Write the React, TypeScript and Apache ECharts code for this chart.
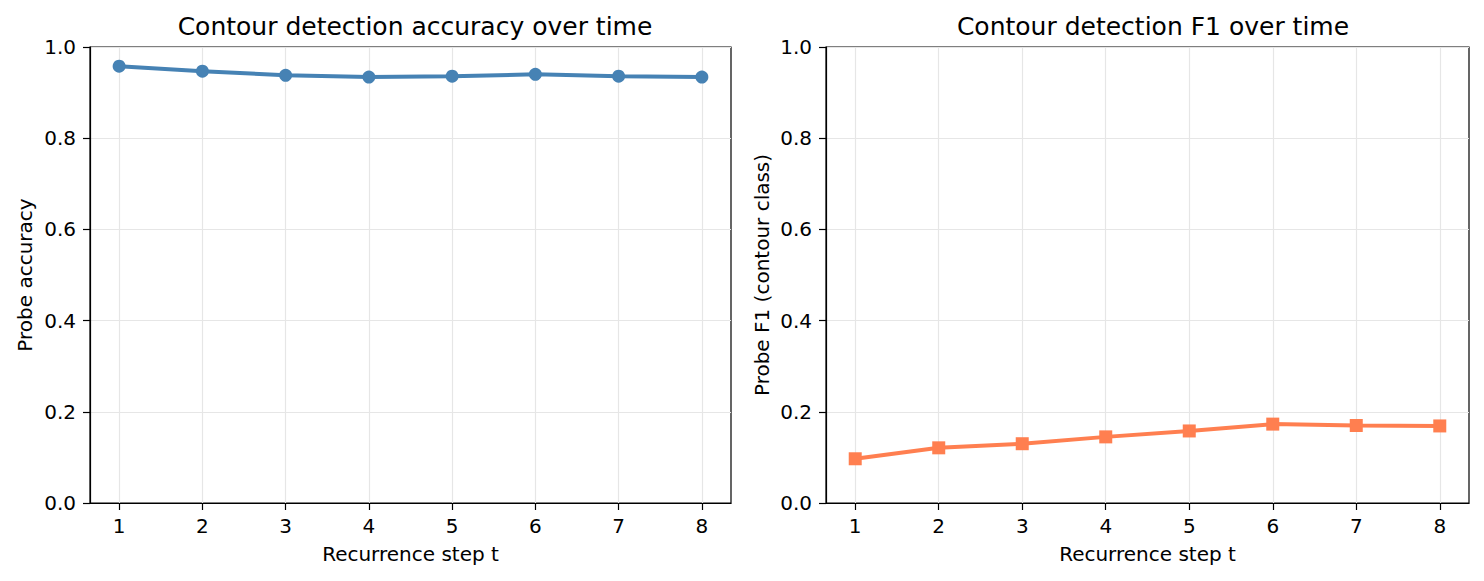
import React, { useEffect, useRef } from "react";
import * as echarts from "echarts";

const steps = [1, 2, 3, 4, 5, 6, 7, 8];
const accuracy = [0.958, 0.947, 0.938, 0.934, 0.936, 0.94, 0.936, 0.934];
const f1 = [0.097, 0.121, 0.13, 0.145, 0.158, 0.173, 0.17, 0.169];

const FONT = "DejaVu Sans";
const TICK_FS = 20;
const TITLE_FS = 25;

function xAxisCfg(gridIndex: number) {
  return {
    type: "value",
    gridIndex,
    min: 0.65,
    max: 8.35,
    name: "Recurrence step t",
    nameLocation: "middle",
    nameGap: 41,
    nameTextStyle: { fontFamily: FONT, fontSize: TICK_FS, color: "#000" },
    axisLine: { show: true, lineStyle: { color: "#000", width: 1.2 } },
    axisTick: { show: true, length: 7, lineStyle: { color: "#000", width: 1.2 }, customValues: steps },
    axisLabel: {
      fontFamily: FONT,
      fontSize: TICK_FS,
      color: "#000",
      margin: 13,
      customValues: steps,
      formatter: (v: number) => String(v),
    },
    splitLine: { show: true, lineStyle: { color: "#e6e6e6", width: 1.2 } },
  };
}

function yAxisCfg(gridIndex: number, name: string, gap: number) {
  return {
    type: "value",
    gridIndex,
    min: 0,
    max: 1,
    interval: 0.2,
    name,
    nameLocation: "middle",
    nameGap: gap,
    nameRotate: 90,
    nameTextStyle: { fontFamily: FONT, fontSize: TICK_FS, color: "#000" },
    axisLine: { show: true, lineStyle: { color: "#000", width: 1.2 } },
    axisTick: { show: true, length: 7, lineStyle: { color: "#000", width: 1.2 } },
    axisLabel: {
      fontFamily: FONT,
      fontSize: TICK_FS,
      color: "#000",
      margin: 14,
      formatter: (v: number) => v.toFixed(1),
    },
    splitLine: { show: true, lineStyle: { color: "#e6e6e6", width: 1.2 } },
  };
}

export default function App() {
  const ref = useRef<HTMLDivElement>(null);
  useEffect(() => {
    if (!ref.current) return;
    const chart = echarts.init(ref.current, undefined, { renderer: "svg" });
    chart.setOption({
      animation: false,
      backgroundColor: "#fff",
      title: [
        {
          text: "Contour detection accuracy over time",
          left: 410,
          top: 9,
          textAlign: "center",
          textStyle: { fontFamily: FONT, fontSize: TITLE_FS, fontWeight: "normal", color: "#000" },
        },
        {
          text: "Contour detection F1 over time",
          left: 1148,
          top: 9,
          textAlign: "center",
          textStyle: { fontFamily: FONT, fontSize: TITLE_FS, fontWeight: "normal", color: "#000" },
        },
      ],
      grid: [
        { left: 90, right: 753, top: 47, bottom: 78, show: true, borderColor: "#000", borderWidth: 1.2, backgroundColor: "transparent" },
        { left: 826, right: 15, top: 47, bottom: 78, show: true, borderColor: "#000", borderWidth: 1.2, backgroundColor: "transparent" },
      ],
      xAxis: [xAxisCfg(0), xAxisCfg(1)],
      yAxis: [yAxisCfg(0, "Probe accuracy", 55), yAxisCfg(1, "Probe F1 (contour class)", 54)],
      series: [
        {
          type: "line",
          xAxisIndex: 0,
          yAxisIndex: 0,
          data: steps.map((s, i) => [s, accuracy[i]]),
          symbol: "circle",
          symbolSize: 13,
          lineStyle: { color: "#4682B4", width: 4 },
          itemStyle: { color: "#4682B4" },
        },
        {
          type: "line",
          xAxisIndex: 1,
          yAxisIndex: 1,
          data: steps.map((s, i) => [s, f1[i]]),
          symbol: "rect",
          symbolSize: 13,
          lineStyle: { color: "#FF7F50", width: 4 },
          itemStyle: { color: "#FF7F50" },
        },
      ],
    });
    return () => chart.dispose();
  }, []);
  return <div ref={ref} style={{ width: 1484, height: 581, margin: -8 }} />;
}
